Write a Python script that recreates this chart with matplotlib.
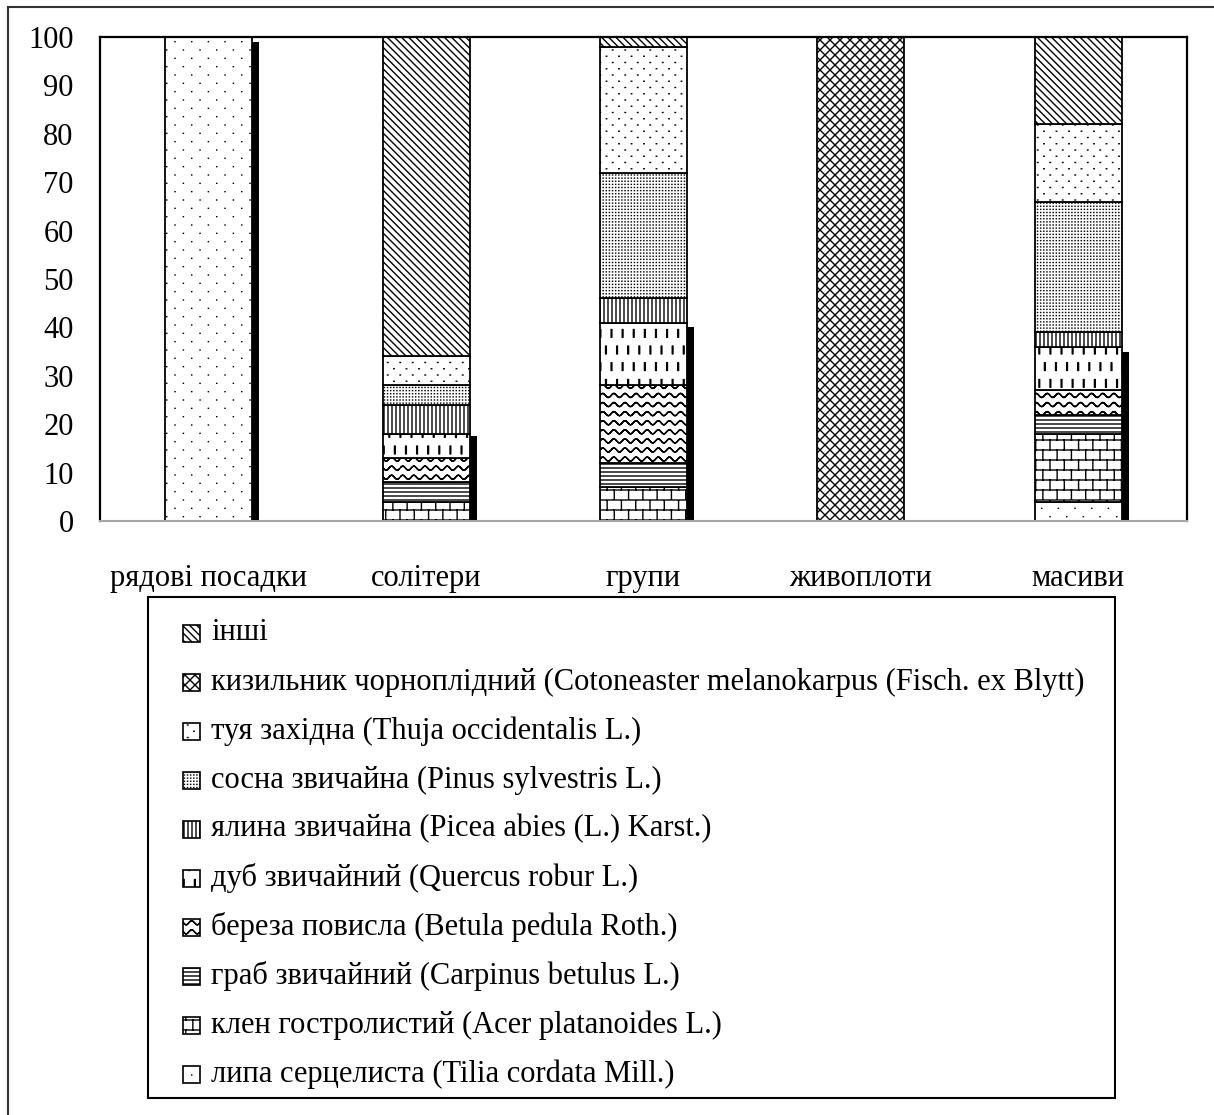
import warnings
warnings.filterwarnings('ignore')
import numpy as np
import matplotlib
matplotlib.use('Agg')
import matplotlib.pyplot as plt
import matplotlib.hatch as mhatch
from matplotlib.path import Path
from matplotlib.patches import Rectangle
from matplotlib.lines import Line2D

# ---------------- data ----------------
categories = ['рядові посадки', 'солітери', 'групи', 'живоплоти', 'масиви']

lypa      = [100, 0, 0, 0, 4]     # липа серцелиста
klen      = [0, 4, 7, 0, 14]      # клен гостролистий
hrab      = [0, 4, 5, 0, 4]       # граб звичайний
bereza    = [0, 5, 16, 0, 5]      # береза повисла
dub       = [0, 5, 13, 0, 9]      # дуб звичайний
yalyna    = [0, 6, 5, 0, 3]       # ялина звичайна
sosna     = [0, 4, 26, 0, 27]     # сосна звичайна
tuya      = [0, 6, 26, 0, 16]     # туя західна
kyzylnyk  = [0, 0, 0, 100, 0]     # кизильник чорноплідний
inshi     = [0, 66, 2, 0, 18]     # інші

shadow = [99, 17.5, 40, 0, 35]

labels = [
    'липа серцелиста (Tilia cordata Mill.)',
    'клен гостролистий (Acer platanoides L.)',
    'граб звичайний (Carpinus betulus L.)',
    'береза повисла (Betula pedula Roth.)',
    'дуб звичайний (Quercus robur L.)',
    'ялина звичайна (Picea abies (L.) Karst.)',
    'сосна звичайна (Pinus sylvestris L.)',
    'туя західна (Thuja occidentalis L.)',
    'кизильник чорноплідний (Cotoneaster melanokarpus (Fisch. ex Blytt)',
    'інші',
]
series = [lypa, klen, hrab, bereza, dub, yalyna, sosna, tuya, kyzylnyk, inshi]
hatches = ['l', 'k', 'g', 'b', 'd', 'y', 's', 't', 'c', 'i']

# ---------------- custom hatch patterns ----------------
def _vc(segs):
    v = np.asarray(segs, float).reshape(-1, 2)
    c = np.tile(np.array([Path.MOVETO, Path.LINETO], dtype=Path.code_type), len(segs))
    return v, c

def p_dots(ncol, nrow, stagger=True, d=0.002):
    segs = []
    for j in range(nrow + 1):
        y = j / nrow
        off = (0.5 / ncol) if (stagger and j % 2) else 0.0
        for i in range(-1, ncol + 2):
            x = i / ncol + off
            segs.append(((x, y), (x + d, y)))
    return segs

def p_hlines(n):
    return [((-0.05, j / n), (1.05, j / n)) for j in range(n + 1)]

def p_vlines(n):
    return [((i / n, -0.05), (i / n, 1.05)) for i in range(n + 1)]

def p_back(n):
    return [((k / n, 1.0), (k / n + 1.0, 0.0)) for k in range(-n - 1, n + 2)]

def p_fwd(n):
    return [((k / n, 0.0), (k / n + 1.0, 1.0)) for k in range(-n - 1, n + 2)]

def p_brick(ncol, nrow):
    segs = p_hlines(nrow)
    for j in range(nrow):
        y0, y1 = j / nrow, (j + 1) / nrow
        off = (0.5 / ncol) if j % 2 else 0.0
        for i in range(-1, ncol + 2):
            x = i / ncol + off
            segs.append(((x, y0), (x, y1)))
    return segs

def p_waves(nrow, nwave, amp, spw=14):
    segs = []
    xs = np.linspace(0, 1, nwave * spw + 1)
    for j in range(nrow):
        y0 = (j + 0.5) / nrow
        ys = y0 + amp * np.sin(2 * np.pi * nwave * xs)
        for k in range(len(xs) - 1):
            segs.append(((xs[k], ys[k]), (xs[k + 1], ys[k + 1])))
    return segs

def p_dashes(ncol, nrow, length):
    segs = []
    for j in range(nrow + 1):
        yc = j / nrow
        off = (0.5 / ncol) if j % 2 else 0.0
        for i in range(-1, ncol + 2):
            x = i / ncol + off
            for dx in (0.0, 0.008):
                segs.append(((x + dx, yc - length / 2), (x + dx, yc + length / 2)))
    return segs

_CUSTOM = {
    'l': _vc(p_dots(6, 12, True, 0.001)),
    'k': _vc(p_brick(7, 10)),
    'g': _vc(p_hlines(25)),
    'b': _vc(p_waves(11, 9, 0.02)),
    'd': _vc(p_dashes(9, 6, 0.075)),
    'y': _vc(p_vlines(25)),
    's': _vc(p_dots(32, 32, False, 0.001)),
    't': _vc(p_dots(8, 16, True, 0.005)),
    'c': _vc(p_back(10) + p_fwd(10)),
    'i': _vc(p_back(14)),
}

class _CustomHatch(mhatch.HatchPatternBase):
    def __init__(self, hatch, density):
        self.num_vertices = 0
        for ch, (v, c) in _CUSTOM.items():
            if ch in hatch:
                self._v, self._c = v, c
                self.num_vertices = len(v)
                break

    def set_vertices_and_codes(self, vertices, codes):
        vertices[:] = self._v
        codes[:] = self._c

mhatch._hatch_types.append(_CustomHatch)

# ---------------- figure ----------------
plt.rcParams['font.family'] = ['Liberation Serif', 'DejaVu Serif']
plt.rcParams['hatch.linewidth'] = 1.0
plt.rcParams['hatch.color'] = 'black'

W, H = 1214, 1115
fig = plt.figure(figsize=(W / 100, H / 100), dpi=100)
fig.patch.set_facecolor('white')

ax = fig.add_axes([100 / W, 1 - 521 / H, 1087 / W, 484 / H])
x = np.arange(len(categories))
bw = 0.40
bottom = np.zeros(len(categories))
for vals, h in zip(series, hatches):
    vals = np.asarray(vals, float)
    ax.bar(x, vals, bw, bottom=bottom, color='white', edgecolor='black',
           linewidth=1.3, hatch=h, zorder=2)
    bottom += vals
ax.bar(x + bw / 2 + 0.016, shadow, 0.032, color='black', linewidth=0, zorder=1)

ax.set_xlim(-0.5, 4.5)
ax.set_ylim(0, 100)
ax.set_yticks(np.arange(0, 101, 10))
ax.set_xticks(x)
ax.set_xticklabels(categories)
ax.tick_params(axis='both', length=0, labelsize=22)
ax.tick_params(axis='x', pad=31)
ax.tick_params(axis='y', pad=19)
for s in ['left', 'top', 'right']:
    ax.spines[s].set_color('black')
    ax.spines[s].set_linewidth(1.6)
ax.spines['bottom'].set_color('#a6a6a6')
ax.spines['bottom'].set_linewidth(1.5)

# outer frame (left and top visible)
fig.add_artist(Line2D([8 / W, 8 / W], [0, 1 - 7 / H], transform=fig.transFigure,
                      color='#333333', linewidth=1.5))
fig.add_artist(Line2D([8 / W, 1], [1 - 7 / H, 1 - 7 / H], transform=fig.transFigure,
                      color='#333333', linewidth=1.5))

# legend box
lx0, ly0, lx1, ly1 = 148, 597, 1115, 1098
fig.add_artist(Rectangle((lx0 / W, 1 - ly1 / H), (lx1 - lx0) / W, (ly1 - ly0) / H,
                         transform=fig.transFigure, fill=False, edgecolor='black',
                         linewidth=1.5))
for i, (lab, h) in enumerate(zip(labels[::-1], hatches[::-1])):
    yc = 633 + 49.0 * i
    fig.add_artist(Rectangle((183 / W, 1 - (yc + 8.5) / H), 17 / W, 17 / H,
                             transform=fig.transFigure, facecolor='white',
                             edgecolor='black', linewidth=1.2, hatch=h))
    fig.text(211 / W, 1 - yc / H, lab, fontsize=22, va='center', ha='left')

fig.savefig('out.png', dpi=100, facecolor='white')
